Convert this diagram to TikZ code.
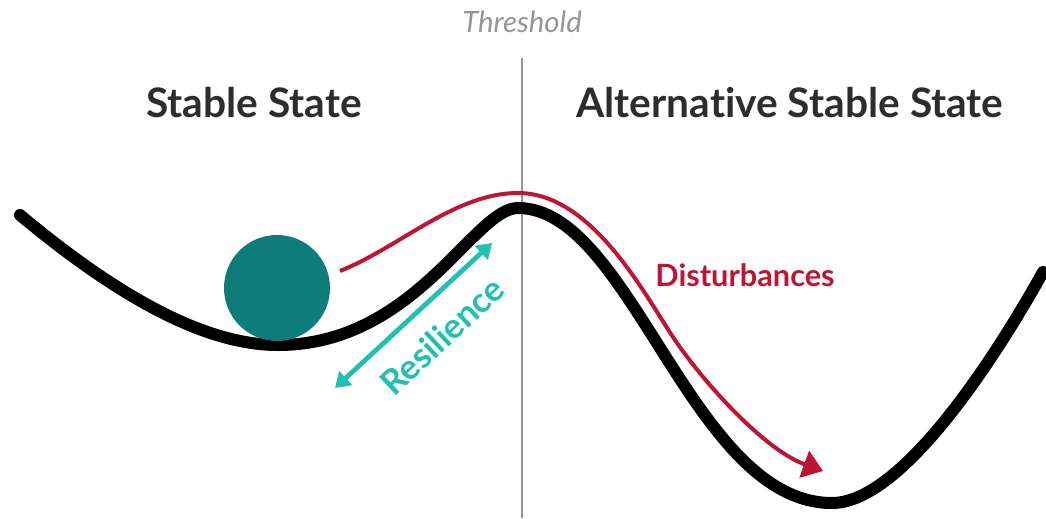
\documentclass[tikz,border=0pt]{standalone}
\usepackage{fontspec}
\setmainfont{Lato}[Ligatures=NoCommon]
\usepackage{tikz}
\usetikzlibrary{arrows.meta}

\definecolor{ballteal}{RGB}{14,124,123}
\definecolor{distred}{RGB}{190,22,50}
\definecolor{resturq}{RGB}{34,192,178}
\definecolor{headgray}{RGB}{45,45,45}
\definecolor{threshgray}{RGB}{150,150,150}

\tikzset{
  heading/.style={font=\bfseries\fontsize{30.5}{36}\selectfont, text=headgray},
  landscape/.style={line width=9pt, line cap=round, black},
  distpath/.style={line width=3pt, distred, -{Triangle[length=15pt,width=21pt]}},
  resarrow/.style={line width=3.6pt, resturq, {Triangle[length=11pt,width=14pt]}-{Triangle[length=11pt,width=14pt]}}
}

\begin{document}
\begin{tikzpicture}[x=0.75pt, y=-0.75pt]
  \useasboundingbox (0,0) rectangle (1046,518);

  % threshold
  \node[font=\itshape\fontsize{22}{26}\selectfont, text=threshgray] (thr) at (522,22) {Threshold};
  \coordinate (thr top) at (522,58);
  \coordinate (thr bottom) at (522,518);
  \draw[line width=2.2pt, threshgray] (thr top) -- (thr bottom);

  % state titles
  \node[heading] (stable) at (254,103) {Stable State};
  \node[heading] (alt) at (790,103) {Alternative Stable State};

  % stability landscape
  \draw[landscape] (20,215) .. controls (110,290) and (200,345) .. (278,345)
    .. controls (415,345) and (474,208) .. (518,208)
    .. controls (631,208) and (692,503) .. (832,503)
    .. controls (905,503) and (1003,344) .. (1043,272);

  % ball
  \fill[ballteal] (277,288) circle (53);

  % disturbance path
  \coordinate (dist start) at (340,271);
  \coordinate (dist top) at (518,193);
  \coordinate (dist end) at (823,471);
  \draw[distpath] (dist start) .. controls (400,247) and (455,193) .. (dist top)
    .. controls (595,193) and (649,303) .. (677,343)
    .. controls (707,386) and (765,450) .. (dist end);
  \node[font=\bfseries\fontsize{23}{27}\selectfont, text=distred] (dist) at (745,275) {Disturbances};

  % resilience
  \coordinate (res low) at (335,388);
  \coordinate (res high) at (492,243);
  \draw[resarrow] (res low) -- (res high);
  \node[font=\bfseries\fontsize{26}{30}\selectfont, text=resturq, rotate=43] (res) at (442,336) {Resilience};
\end{tikzpicture}
\end{document}
